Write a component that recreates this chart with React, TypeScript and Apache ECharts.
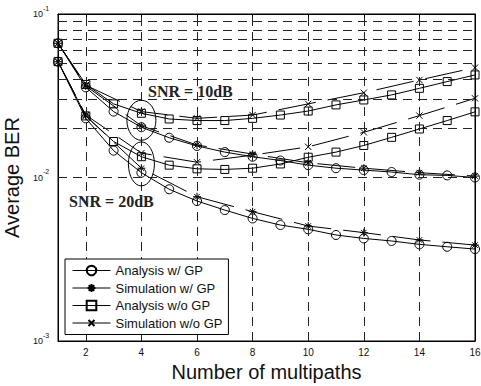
import React, { useEffect, useRef } from 'react';
import * as echarts from 'echarts';

// ---- data ----
const xAll = [1, 2, 3, 4, 5, 6, 7, 8, 9, 10, 11, 12, 13, 14, 15, 16];
const xSim = [1, 2, 4, 6, 8, 10, 12, 14, 16];

// SNR = 10 dB
const anaGP10 = [0.0662, 0.0356, 0.0253, 0.0203, 0.0175, 0.0156, 0.0143, 0.0134, 0.0127, 0.0119, 0.0114, 0.0111, 0.0108, 0.0104, 0.0103, 0.0100];
const simGP10 = [0.0662, 0.0363, 0.0207, 0.0158, 0.0139, 0.0123, 0.0114, 0.0107, 0.0102];
const anaNoGP10 = [0.0662, 0.0371, 0.0282, 0.0247, 0.0228, 0.0223, 0.0223, 0.0230, 0.0241, 0.0255, 0.0278, 0.0298, 0.0320, 0.0351, 0.0386, 0.0424];
const simNoGP10 = [0.0662, 0.0367, 0.0253, 0.0230, 0.0241, 0.0282, 0.0330, 0.0395, 0.0470];

// SNR = 20 dB
const anaGP20 = [0.0511, 0.0230, 0.0146, 0.0107, 0.00847, 0.00718, 0.00632, 0.00562, 0.00512, 0.00482, 0.00445, 0.00424, 0.00409, 0.00390, 0.00377, 0.00365];
const simGP20 = [0.0511, 0.0238, 0.0114, 0.00763, 0.00618, 0.00505, 0.00460, 0.00415, 0.00386];
const anaNoGP20 = [0.0511, 0.0238, 0.0166, 0.0134, 0.0119, 0.0113, 0.0112, 0.0114, 0.0121, 0.0133, 0.0143, 0.0157, 0.0176, 0.0198, 0.0223, 0.0252];
const simNoGP20 = [0.0511, 0.0241, 0.0141, 0.0124, 0.0137, 0.0154, 0.0189, 0.0239, 0.0305];

const legendNames = ['Analysis w/ GP', 'Simulation w/ GP', 'Analysis w/o GP', 'Simulation w/o GP'];
const xTickValues = [2, 4, 6, 8, 10, 12, 14, 16];
const xGridValues = [2, 4, 6, 8, 10, 12, 14];
const yGridValues = [0.002, 0.003, 0.004, 0.005, 0.006, 0.007, 0.008, 0.009, 0.01, 0.02, 0.03, 0.04, 0.05, 0.06, 0.07, 0.08, 0.09];
const snrLabels = ['SNR = 10dB', 'SNR = 20dB'];

const FONT = '"Liberation Sans", Arial, sans-serif';
// marker outlines (isolated moveTo points pad the symbol's box so the glyph is drawn smaller than the box)
const ASTERISK = 'path://M-1,-1M5,0L5,10M0,5L10,5M1.5,1.5L8.5,8.5M8.5,1.5L1.5,8.5M11,11';
const CROSS = 'path://M-3,-3M0,0L10,10M10,0L0,10M13,13';

const zip = (xs: number[], ys: number[]) => xs.map((x, i) => [x, ys[i]]);

function mk(name: string, xs: number[], ys: number[], symbol: string, size: number, dashed: boolean) {
  return {
    type: 'line',
    name,
    data: zip(xs, ys),
    symbol,
    symbolSize: size,
    symbolKeepAspect: true,
    showAllSymbol: true,
    xAxisIndex: 0,
    yAxisIndex: 0,
    lineStyle: { color: '#000', width: 1, type: dashed ? [38, 12] : 'solid' },
    itemStyle: { color: 'rgba(0,0,0,0)', borderColor: '#000', borderWidth: 1 },
    emphasis: { disabled: true },
    z: 3,
  };
}

export default function App() {
  const ref = useRef<HTMLDivElement>(null);
  useEffect(() => {
    document.body.style.margin = '0';
    const chart = echarts.init(ref.current!, null, { renderer: 'svg' });
    const gridLine = { color: '#222', width: 1, type: [9, 6] };
    const option: any = {
      animation: false,
      backgroundColor: '#fff',
      grid: {
        left: 58, right: 6, top: 14, bottom: 45, show: true, borderColor: '#000', borderWidth: 1,
        backgroundColor: 'transparent', containLabel: false, outerBoundsMode: 'none',
      },
      legend: {
        data: legendNames,
        orient: 'vertical',
        left: 65,
        top: 259,
        padding: [5, 6, 5, 7],
        itemWidth: 38,
        itemHeight: 12,
        itemGap: 4.5,
        borderColor: '#000',
        borderWidth: 1,
        backgroundColor: '#fff',
        selectedMode: false,
        textStyle: { fontFamily: FONT, fontSize: 13, color: '#111' },
        lineStyle: { color: '#000', width: 1, type: 'solid' },
        z: 10,
      },
      xAxis: [
        {
          type: 'value', min: 1, max: 16, position: 'bottom',
          name: 'Number of multipaths', nameLocation: 'middle', nameGap: 21,
          nameTextStyle: { fontFamily: FONT, fontSize: 20, color: '#111' },
          axisLine: { show: true, lineStyle: { color: '#000' } },
          axisTick: { show: true, inside: true, length: 4, customValues: xTickValues, lineStyle: { color: '#000' } },
          axisLabel: { customValues: xTickValues, fontFamily: FONT, fontSize: 10, color: '#111', margin: 6 },
          splitLine: { show: false },
        },
        {
          type: 'value', min: 1, max: 16, position: 'top',
          axisLine: { show: true, lineStyle: { color: '#000' } },
          axisTick: { show: true, inside: true, length: 4, customValues: xTickValues, lineStyle: { color: '#000' } },
          axisLabel: { show: false },
          splitLine: { show: false },
        },
      ],
      yAxis: [
        {
          type: 'log', logBase: 10, min: 0.001, max: 0.1, position: 'left',
          name: 'Average BER', nameLocation: 'middle', nameGap: 32,
          nameTextStyle: { fontFamily: FONT, fontSize: 20, color: '#111' },
          axisLine: { show: true, lineStyle: { color: '#000' } },
          axisTick: { show: true, inside: true, length: 4, lineStyle: { color: '#000' } },
          axisLabel: {
            margin: 25,
            align: 'left',
            formatter: (v: number) => `{b|10}{s|${Math.round(Math.log10(v))}}`,
            rich: {
              b: { fontFamily: FONT, fontSize: 9, color: '#111' },
              s: { fontFamily: FONT, fontSize: 7, color: '#111', padding: [0, 0, 12, 0] },
            },
          },
          splitLine: { show: false },
        },
        {
          type: 'log', logBase: 10, min: 0.001, max: 0.1, position: 'right',
          axisLine: { show: true, lineStyle: { color: '#000' } },
          axisTick: { show: true, inside: true, length: 4, lineStyle: { color: '#000' } },
          axisLabel: { show: false },
          splitLine: { show: false },
        },
      ],
      series: [
        {
          type: 'line', name: 'grid', data: [], xAxisIndex: 0, yAxisIndex: 0, z: 1, silent: true,
          markLine: {
            silent: true, symbol: ['none', 'none'], label: { show: false }, animation: false,
            lineStyle: gridLine, emphasis: { disabled: true },
            data: [
              ...yGridValues.map((v) => ({ yAxis: v })),
              ...xGridValues.map((v) => ({ xAxis: v })),
            ],
          },
        },
        mk(legendNames[0], xAll, anaGP10, 'circle', 9, false),
        mk(legendNames[1], xSim, simGP10, ASTERISK, 9.5, true),
        mk(legendNames[2], xAll, anaNoGP10, 'rect', 8, false),
        mk(legendNames[3], xSim, simNoGP10, CROSS, 10, true),
        mk(legendNames[0], xAll, anaGP20, 'circle', 9, false),
        mk(legendNames[1], xSim, simGP20, ASTERISK, 9.5, true),
        mk(legendNames[2], xAll, anaNoGP20, 'rect', 8, false),
        mk(legendNames[3], xSim, simNoGP20, CROSS, 10, true),
      ],
    };
    chart.setOption(option);

    const c1 = chart.convertToPixel({ gridIndex: 0 }, [4, Math.sqrt(anaNoGP10[3] * anaGP10[3])]) as number[];
    const c2 = chart.convertToPixel({ gridIndex: 0 }, [4, Math.sqrt(simNoGP20[2] * anaGP20[3])]) as number[];
    const textStyle = { fontSize: 16, fontWeight: 'bold', fontFamily: '"Liberation Serif", "Times New Roman", serif', fill: '#222', verticalAlign: 'middle' };
    chart.setOption({
      graphic: [
        { type: 'ellipse', x: c1[0], y: c1[1], shape: { cx: 0, cy: 0, rx: 14.5, ry: 20 }, style: { fill: 'none', stroke: '#000', lineWidth: 1 }, silent: true, z: 5 },
        { type: 'ellipse', x: c2[0], y: c2[1] + 1, shape: { cx: 0, cy: 0, rx: 13, ry: 22 }, style: { fill: 'none', stroke: '#000', lineWidth: 1 }, silent: true, z: 5 },
        { type: 'text', x: 148, y: 91, style: { ...textStyle, text: snrLabels[0] }, silent: true, z: 5 },
        { type: 'text', x: 69, y: 201, style: { ...textStyle, text: snrLabels[1] }, silent: true, z: 5 },
      ],
    });
    return () => chart.dispose();
  }, []);
  return <div ref={ref} style={{ width: 481, height: 386 }} />;
}
